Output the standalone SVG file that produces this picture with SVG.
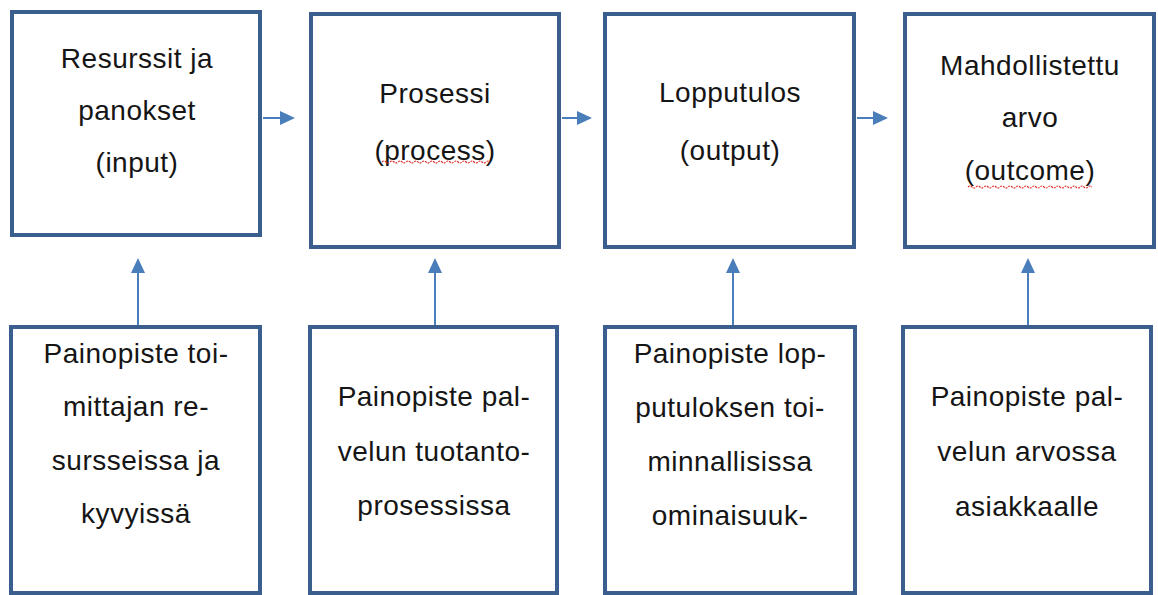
<svg xmlns="http://www.w3.org/2000/svg" width="1158" height="595" viewBox="0 0 1158 595">
  <style>
    .box { fill: #ffffff; stroke: #3a5f8f; stroke-width: 4; }
    .lbl { font-family: "Liberation Sans", Arial, sans-serif; font-size: 28px; letter-spacing: 0.5px; fill: #151515; text-anchor: middle; }
    .conn { stroke: #4a7ebb; stroke-width: 2; fill: none; marker-end: url(#arrow); }
    .squig { stroke: #e0302a; stroke-width: 1.2; fill: none; stroke-dasharray: 2 1; }
  </style>
  <defs>
    <marker id="arrow" markerUnits="userSpaceOnUse" markerWidth="15" markerHeight="14" viewBox="0 0 15 14" refX="7" refY="7" orient="auto">
      <path d="M0,0 L15,7 L0,14 z" fill="#4a7ebb"/>
    </marker>
  </defs>
  <rect width="1158" height="595" fill="#ffffff"/>

  <g id="node-input">
    <rect class="box" x="12" y="12" width="248" height="223"/>
    <text class="lbl" x="137" y="68">Resurssit ja</text>
    <text class="lbl" x="137" y="120">panokset</text>
    <text class="lbl" x="137" y="172">(input)</text>
  </g>
  <g id="node-process">
    <rect class="box" x="311" y="14" width="248" height="233"/>
    <text class="lbl" x="435" y="103">Prosessi</text>
    <text class="lbl" x="435" y="160">(process)</text>
    <path class="squig" d="M382,162 q2,-2 4,0 t4,0 t4,0 t4,0 t4,0 t4,0 t4,0 t4,0 t4,0 t4,0 t4,0 t4,0 t4,0 t4,0 t4,0 t4,0 t4,0 t4,0 t4,0 t4,0 t4,0 t4,0 t4,0 t4,0 t4,0 t4,0 t4,0"/>
  </g>
  <g id="node-output">
    <rect class="box" x="605" y="14" width="249" height="233"/>
    <text class="lbl" x="730" y="102">Lopputulos</text>
    <text class="lbl" x="730" y="160">(output)</text>
  </g>
  <g id="node-outcome">
    <rect class="box" x="905" y="14" width="249" height="233"/>
    <text class="lbl" x="1030" y="75">Mahdollistettu</text>
    <text class="lbl" x="1030" y="127">arvo</text>
    <text class="lbl" x="1030" y="180">(outcome)</text>
    <path class="squig" d="M968,187 q2,-2 4,0 t4,0 t4,0 t4,0 t4,0 t4,0 t4,0 t4,0 t4,0 t4,0 t4,0 t4,0 t4,0 t4,0 t4,0 t4,0 t4,0 t4,0 t4,0 t4,0 t4,0 t4,0 t4,0 t4,0 t4,0 t4,0 t4,0 t4,0 t4,0 t4,0 t4,0"/>
  </g>

  <g id="node-focus-resources">
    <rect class="box" x="11" y="327" width="249" height="266"/>
    <text class="lbl" x="136" y="363">Painopiste toi-</text>
    <text class="lbl" x="136" y="416">mittajan re-</text>
    <text class="lbl" x="136" y="470">sursseissa ja</text>
    <text class="lbl" x="136" y="523">kyvyissä</text>
  </g>
  <g id="node-focus-process">
    <rect class="box" x="310" y="327" width="247" height="266"/>
    <text class="lbl" x="434" y="406">Painopiste pal-</text>
    <text class="lbl" x="434" y="461">velun tuotanto-</text>
    <text class="lbl" x="434" y="515">prosessissa</text>
  </g>
  <g id="node-focus-output">
    <rect class="box" x="605" y="327" width="250" height="266"/>
    <text class="lbl" x="730" y="363">Painopiste lop-</text>
    <text class="lbl" x="730" y="417">putuloksen toi-</text>
    <text class="lbl" x="730" y="471">minnallisissa</text>
    <text class="lbl" x="730" y="525">ominaisuuk-</text>
  </g>
  <g id="node-focus-value">
    <rect class="box" x="903" y="327" width="248" height="266"/>
    <text class="lbl" x="1027" y="406">Painopiste pal-</text>
    <text class="lbl" x="1027" y="461">velun arvossa</text>
    <text class="lbl" x="1027" y="516">asiakkaalle</text>
  </g>

  <g id="connectors">
    <line class="conn" x1="263" y1="118" x2="287" y2="118"/>
    <line class="conn" x1="562" y1="118" x2="584" y2="118"/>
    <line class="conn" x1="857" y1="118" x2="880" y2="118"/>
    <line class="conn" x1="138" y1="325" x2="138" y2="266"/>
    <line class="conn" x1="435" y1="325" x2="435" y2="266"/>
    <line class="conn" x1="733" y1="325" x2="733" y2="266"/>
    <line class="conn" x1="1028" y1="325" x2="1028" y2="266"/>
  </g>
</svg>
